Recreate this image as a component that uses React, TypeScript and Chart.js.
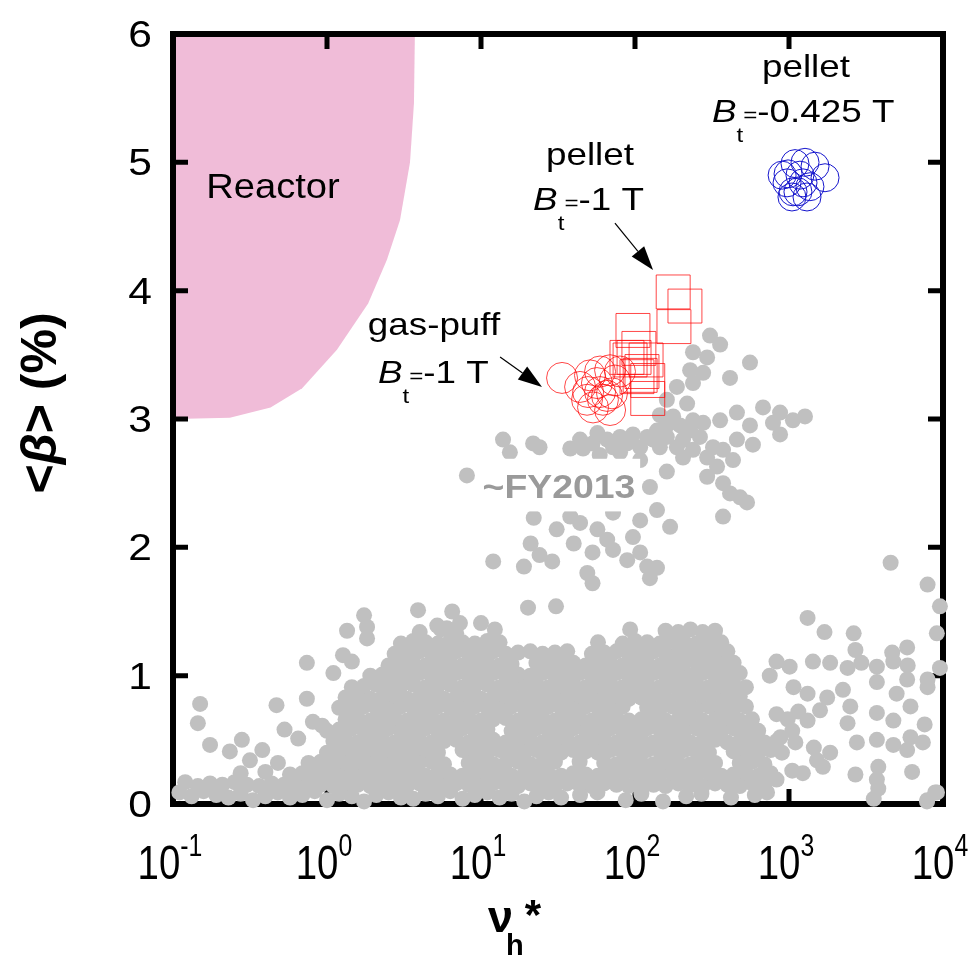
import React, { useEffect, useRef } from "react";
import { Chart, registerables } from "chart.js";

Chart.register(...registerables);

const SANS = '"Liberation Sans", Arial, Helvetica, sans-serif';

// ---- axes ----
const nuTicks = [0.1, 1, 10, 100, 1000, 10000];
const nuTickExponents = ["-1", "0", "1", "2", "3", "4"];
const betaTicks = [0, 1, 2, 3, 4, 5, 6];

// ---- reactor-relevant regime (outline in ν_h*, <β>) ----
const reactorNu = [0.1, 3.72, 3.67, 3.46, 2.98, 2.45, 1.85, 1.16, 0.69, 0.43, 0.234, 0.103, 0.1];
const reactorBeta = [6, 6, 5.46, 5.0, 4.55, 4.24, 3.9, 3.54, 3.24, 3.09, 3.01, 3.0, 3.0];

// ---- pellet, Bt = -0.425 T ----
const pelletLowBNu = [902, 1271, 1714, 1143, 1045, 1309, 986, 1178, 971, 1476, 1094, 1233, 1062, 1368];
const pelletLowBBeta = [4.9, 5.0, 4.88, 4.77, 4.73, 4.73, 4.91, 4.9, 4.84, 4.97, 4.99, 4.84, 4.77, 4.81];

// ---- pellet, Bt = -1 T ----
const pelletNu = [177, 211, 179, 97, 106, 98.6, 92.9, 118, 111, 108, 121, 121, 103, 88.7];
const pelletBeta = [3.99, 3.88, 3.72, 3.69, 3.55, 3.48, 3.46, 3.46, 3.37, 3.34, 3.3, 3.16, 3.33, 3.48];

// ---- gas-puff, Bt = -1 T ----
const gasPuffNu = [33.6, 51, 49.6, 59.3, 68.9, 56.6, 65.8, 48.8, 61.9, 68.9, 53.4, 74.1, 79.9, 44.0, 59.3, 70.9];
const gasPuffBeta = [3.32, 3.34, 3.21, 3.37, 3.38, 3.28, 3.18, 3.15, 3.15, 3.07, 3.09, 3.3, 3.37, 3.25, 3.21, 3.2];

// ---- database up to FY2013, [ν_h*, <β>] ----
const dbFloor: number[][] = [
  [0.11,0.09],[0.132,0.06],[0.158,0.1],[0.191,0.07],[0.229,0.05],[0.275,0.08],[0.331,0.03],[0.398,0.06],[0.479,0.09],[0.575,0.05],[0.692,0.07],[0.832,0.1],[1.0,0.03],[1.2,0.08],[1.45,0.06],[1.74,0.02],[2.09,0.07],[2.51,0.09],[3.02,0.05],[3.63,0.04],[4.37,0.08],[5.25,0.06],[6.31,0.1],[7.59,0.04],[9.12,0.07],[11,0.09],[13.2,0.05],[15.8,0.08],[19.1,0.02],[22.9,0.06],[27.5,0.09],[33.1,0.05],[44,0.07],[57,0.09],[87,0.03],[110,0.08],[152,0.02],[215,0.06],[270,0.08],[420,0.05],[600,0.07],[3550,0.04],[7870,0.02],[9140,0.09],
  [0.12,0.17],[0.145,0.14],[0.174,0.16],[0.209,0.15],[0.251,0.17],[0.302,0.15],[0.363,0.14],[0.437,0.16],[0.525,0.15],[0.631,0.14],[0.759,0.16],[0.912,0.15],[1.1,0.14],[1.32,0.16],[1.58,0.15],[1.91,0.14],[2.29,0.16],[2.75,0.15],[3.31,0.14],[3.98,0.16],[4.79,0.15],[5.75,0.14],[6.92,0.16],[8.32,0.15],[10,0.14],[12,0.16],[14.5,0.15],[17.4,0.14],[20.9,0.16],[25.1,0.15],[30.2,0.14],[36.3,0.16],[43.7,0.15],[52.5,0.14],[63.1,0.16],[75.9,0.15],[91.2,0.14],[110,0.16],[132,0.15],[158,0.14],[191,0.16],[229,0.15],[275,0.14],[331,0.16],[398,0.15],[479,0.14],[575,0.16],[692,0.15],
  [0.275,0.24],[0.398,0.25],[0.575,0.23],[0.692,0.24],[0.832,0.23],[1.0,0.24],[1.2,0.22],[1.45,0.24],[1.74,0.23],[2.09,0.22],[2.51,0.24],[3.02,0.23],[3.63,0.24],[4.37,0.22],[5.25,0.24],[6.31,0.23],[7.59,0.22],[9.12,0.24],[11,0.23],[13.2,0.24],[15.8,0.22],[19.1,0.23],[22.9,0.24],[27.5,0.23],[33.1,0.22],[39.8,0.24],[47.9,0.23],[57.5,0.22],[69.2,0.24],[83.2,0.23],[100,0.24],[120,0.22],[145,0.23],[174,0.24],[209,0.22],[251,0.23],[302,0.24],[363,0.22],[437,0.23],[525,0.24],[631,0.22],[759,0.24],
];

const dbCore: number[][] = [
  [0.316,0.34],[0.48,0.32],[0.759,0.32],[0.912,0.33],[1.1,0.31],[1.32,0.32],[1.58,0.33],[1.91,0.31],[2.29,0.32],[2.75,0.33],[3.31,0.31],[3.98,0.32],[4.79,0.33],[5.75,0.31],[8.32,0.32],[10,0.33],[12,0.31],[14.5,0.32],[17.4,0.33],[20.9,0.31],[25.1,0.32],[30.2,0.33],[43.7,0.33],[63.1,0.32],[75.9,0.31],[91.2,0.33],[110,0.32],[132,0.31],[158,0.33],[191,0.32],[229,0.31],[275,0.33],[331,0.32],[479,0.32],[575,0.33],[692,0.31],
  [0.234,0.41],[0.38,0.42],[1.0,0.4],[1.2,0.41],[1.45,0.42],[1.74,0.4],[2.09,0.41],[2.51,0.42],[3.02,0.4],[3.63,0.41],[4.37,0.42],[5.25,0.4],[7.59,0.42],[9.12,0.41],[11,0.4],[13.2,0.42],[15.8,0.41],[19.1,0.4],[22.9,0.42],[27.5,0.41],[33.1,0.4],[39.8,0.42],[47.9,0.41],[57.5,0.4],[69.2,0.42],[83.2,0.41],[100,0.4],[120,0.42],[145,0.41],[174,0.4],[209,0.42],[251,0.41],[302,0.4],[437,0.41],[525,0.42],[631,0.4],[759,0.42],
  [0.174,0.46],[0.28,0.5],[0.65,0.51],[1.1,0.49],[1.32,0.5],[1.58,0.48],[1.91,0.49],[2.29,0.5],[2.75,0.48],[3.31,0.49],[3.98,0.5],[4.79,0.48],[5.75,0.49],[6.92,0.5],[8.32,0.48],[10,0.49],[12,0.5],[14.5,0.48],[17.4,0.49],[20.9,0.5],[25.1,0.48],[30.2,0.49],[36.3,0.5],[43.7,0.48],[52.5,0.49],[63.1,0.5],[75.9,0.48],[91.2,0.49],[110,0.5],[132,0.48],[158,0.49],[191,0.5],[229,0.48],[275,0.49],[331,0.5],[398,0.48],[479,0.49],[575,0.5],[692,0.48],[832,0.49],
  [0.53,0.58],[1.0,0.57],[1.2,0.58],[1.45,0.59],[1.74,0.57],[2.09,0.58],[2.51,0.59],[3.02,0.57],[3.63,0.58],[4.37,0.59],[5.25,0.57],[6.31,0.58],[7.59,0.59],[9.12,0.57],[11,0.58],[15.8,0.57],[19.1,0.58],[22.9,0.59],[27.5,0.57],[33.1,0.58],[39.8,0.59],[47.9,0.57],[57.5,0.58],[69.2,0.59],[83.2,0.57],[100,0.58],[120,0.59],[145,0.58],[174,0.58],[209,0.57],[251,0.59],[302,0.58],[363,0.57],[437,0.59],[525,0.58],[631,0.57],
  [0.145,0.63],[0.81,0.64],[0.93,0.61],[1.32,0.66],[1.58,0.67],[1.91,0.65],[2.29,0.66],[2.75,0.67],[3.31,0.65],[3.98,0.66],[4.79,0.67],[5.75,0.65],[6.92,0.66],[8.32,0.67],[10,0.65],[12,0.66],[14.5,0.67],[17.4,0.65],[20.9,0.66],[25.1,0.67],[30.2,0.65],[36.3,0.66],[43.7,0.67],[52.5,0.65],[63.1,0.66],[75.9,0.67],[91.2,0.65],[110,0.66],[132,0.67],[158,0.65],[191,0.66],[229,0.67],[275,0.65],[331,0.66],[398,0.67],[479,0.65],[575,0.66],
  [0.15,0.78],[0.47,0.77],[0.74,0.82],[1.2,0.75],[1.45,0.74],[1.74,0.76],[2.09,0.75],[2.51,0.74],[3.02,0.76],[3.63,0.75],[4.37,0.74],[5.25,0.76],[6.31,0.75],[7.59,0.74],[9.12,0.76],[11,0.75],[13.2,0.74],[15.8,0.76],[19.1,0.75],[22.9,0.74],[27.5,0.76],[33.1,0.75],[39.8,0.74],[47.9,0.76],[57.5,0.75],[69.2,0.74],[83.2,0.76],[120,0.75],[145,0.74],[174,0.76],[209,0.75],[251,0.74],[302,0.76],[363,0.75],[437,0.74],[525,0.76],
  [1.32,0.83],[1.58,0.84],[1.91,0.82],[2.29,0.83],[2.75,0.84],[3.31,0.82],[3.98,0.83],[4.79,0.84],[5.75,0.82],[6.92,0.83],[8.32,0.84],[10,0.82],[12,0.83],[14.5,0.84],[17.4,0.82],[20.9,0.83],[25.1,0.84],[30.2,0.82],[36.3,0.83],[43.7,0.84],[52.5,0.82],[63.1,0.83],[75.9,0.84],[91.2,0.82],[110,0.83],[132,0.84],[158,0.82],[191,0.83],[229,0.84],[275,0.84],[331,0.82],[398,0.83],[479,0.84],
];

const dbCap: number[][] = [
  [1.45,0.91],[1.74,0.92],[2.09,0.93],[2.51,0.91],[3.02,0.92],[3.63,0.93],[4.37,0.91],[5.25,0.92],[6.31,0.93],[7.59,0.91],[9.12,0.92],[11,0.93],[13.2,0.91],[15.8,0.92],[19.1,0.91],[22.9,0.93],[27.5,0.91],[33.1,0.92],[39.8,0.93],[47.9,0.91],[57.5,0.92],[69.2,0.93],[83.2,0.91],[100,0.92],[120,0.93],[145,0.91],[174,0.92],[209,0.93],[251,0.93],[302,0.91],[363,0.92],[437,0.93],[525,0.91],
  [1.1,1.02],[1.91,1.0],[2.29,1.01],[2.75,1.0],[3.31,1.01],[3.98,1.02],[4.79,1.0],[5.75,1.01],[6.92,1.02],[8.32,1.0],[10,1.01],[12,1.02],[14.5,1.0],[17.4,1.01],[20.9,1.0],[25.1,1.02],[30.2,1.0],[36.3,1.01],[43.7,1.02],[52.5,1.0],[63.1,1.01],[75.9,1.02],[91.2,1.0],[110,1.01],[132,1.02],[158,1.0],[191,1.01],[229,1.0],[275,1.02],[331,1.0],[398,1.01],[479,1.02],
  [0.74,1.1],[2.51,1.08],[3.02,1.09],[3.63,1.1],[4.37,1.08],[5.25,1.09],[6.31,1.1],[7.59,1.08],[9.12,1.09],[11,1.1],[13.2,1.08],[15.8,1.09],[22.9,1.1],[27.5,1.08],[33.1,1.09],[39.8,1.1],[47.9,1.08],[57.5,1.09],[69.2,1.1],[83.2,1.08],[100,1.09],[120,1.1],[145,1.08],[174,1.09],[209,1.1],[251,1.1],[302,1.08],[363,1.09],[437,1.1],
  [2.75,1.17],[3.31,1.18],[3.98,1.19],[4.79,1.17],[5.75,1.18],[6.92,1.19],[8.32,1.17],[10,1.18],[12,1.19],[14.5,1.17],[17.4,1.18],[20.9,1.19],[25.1,1.17],[30.2,1.18],[36.3,1.19],[52.5,1.17],[63.1,1.18],[75.9,1.19],[91.2,1.17],[110,1.18],[132,1.19],[158,1.17],[191,1.18],[229,1.19],[275,1.17],[331,1.18],[398,1.19],
  [3.02,1.25],[3.63,1.27],[4.37,1.26],[5.25,1.25],[6.31,1.27],[7.59,1.26],[9.12,1.25],[11,1.27],[13.2,1.26],[83.2,1.25],[100,1.27],[120,1.26],[145,1.25],[174,1.27],[209,1.26],[251,1.25],[302,1.27],[363,1.26],
  [4.0,1.34],[5.5,1.36],[6.9,1.33],[158,1.35],[191,1.34],[229,1.36],[275,1.34],[331,1.35],
];

const dbScatter: number[][] = [
  [3.9,1.51],[6.5,1.5],[20.2,1.53],[1.74,1.47],[1.82,1.38],[1.35,1.35],[1.82,1.29],[5.2,1.39],[6.0,1.37],[7.3,1.41],[10,1.41],[12.3,1.36],[7.3,1.25],[1.27,1.16],[1.45,1.11],[93,1.36],[57.5,1.26],[30.7,1.54],[125,1.76],
  [1320,1.45],[1700,1.34],[2630,1.33],[7940,1.71],[9550,1.54],[9120,1.33],[9550,1.06],[7940,0.97],[7940,0.91],[2700,1.2],[5850,1.22],[4680,1.18],[4570,1.88],
  [2400,1.06],[2950,1.1],[3720,1.07],[4760,1.11],[5900,1.08],[3720,0.95],[5850,0.97],[5000,0.86],
  [830,1.11],[750,1.0],[1010,1.07],[1430,1.11],[1850,1.1],[1070,0.91],[1320,0.86],[1770,0.83],[1590,0.73],
  [2240,0.89],[2500,0.76],[2400,0.63],[3720,0.71],[4760,0.65],[6150,0.76],[7600,0.62],
  [2760,0.48],[3720,0.5],[4760,0.46],[5850,0.42],[7400,0.48],[6150,0.52],
  [2700,0.23],[3800,0.29],[3720,0.19],[3800,0.12],[6300,0.25],[8900,0.09],[7900,0.03],
  [1320,0.65],[1450,0.44],[1520,0.34],[1660,0.29],[1850,0.4],[1230,0.24],[1050,0.26],[830,0.19],[720,0.09],
  [830,0.7],[980,0.66],[1150,0.72],[880,0.52],[1050,0.57],[900,0.4],[1100,0.48],
];

const dbHigh: number[][] = [
  [307,3.65],[357,3.58],[238,3.52],[294,3.48],[558,3.44],[228,3.38],[277,3.36],[414,3.32],[187,3.25],[238,3.28],[161,3.15],[218,3.12],[177,3.02],[238,2.99],[277,2.97],[357,2.99],[459,3.05],[558,2.95],[875,3.05],[1060,2.99],[1270,3.02],[787,2.97],[875,2.88],[459,2.84],[583,2.8],[678,3.09],
  [139,2.91],[120,2.86],[97,2.88],[80,2.86],[66,2.84],[53,2.81],[46,2.77],[38,2.77],[24,2.78],[21.8,2.81],[13.9,2.84],[15.4,2.74],[145,2.78],[187,2.78],[238,2.76],[294,2.7],[341,2.63],[294,2.55],[373,2.5],[414,2.42],[481,2.39],[534,2.35],[161,2.59],[125,2.47],[373,2.24],[8.1,2.56],
  [139,2.29],[169,2.16],[108,2.21],[72,2.27],[57,2.14],[66,2.06],[44,2.19],[97,2.08],[72,1.98],[89,1.9],[108,1.96],[120,1.85],[139,1.84],[53,1.96],[49,1.8],[53,1.72],[40,2.03],[31,2.14],[22,2.23],[21,2.03],[24,1.94],[29,1.89],[19,1.85],[12,1.89],[38,2.24],
  [44,2.84],[57,2.89],[72,2.78],[89,2.81],[108,2.78],[131,2.84],[161,2.86],[205,2.84],[264,2.86],[321,2.78],[228,2.91],[161,2.95],[373,2.76],[433,2.68],[80,2.74],[59,2.72],[108,2.68],[205,2.7],[145,3.03],[196,2.95],
];

// ---- annotation arrows: [ν tail, β tail, ν head, β head] ----
const arrowPellet = [74.1, 4.527, 131, 4.161];
const arrowGasPuff = [13.3, 3.483, 24.9, 3.249];

type Part = { t: string; font: string; dy?: number; dx?: number };

function rich(
  ctx: CanvasRenderingContext2D,
  parts: Part[],
  x: number,
  y: number,
  sx: number,
  align: "left" | "center" | "right"
) {
  ctx.save();
  ctx.textAlign = "left";
  ctx.textBaseline = "alphabetic";
  const widths = parts.map((p) => {
    ctx.font = p.font;
    return ctx.measureText(p.t).width * sx + (p.dx || 0);
  });
  const total = widths.reduce((a, b) => a + b, 0);
  let cx = align === "center" ? x - total / 2 : align === "right" ? x - total : x;
  parts.forEach((p, i) => {
    ctx.save();
    ctx.translate(cx + (p.dx || 0), y + (p.dy || 0));
    ctx.scale(sx, 1);
    ctx.font = p.font;
    ctx.fillText(p.t, 0, 0);
    ctx.restore();
    cx += widths[i];
  });
  ctx.restore();
}

function arrow(ctx: CanvasRenderingContext2D, x0: number, y0: number, x1: number, y1: number) {
  const ang = Math.atan2(y1 - y0, x1 - x0);
  const len = 24;
  const half = 8;
  const bx = x1 - len * Math.cos(ang);
  const by = y1 - len * Math.sin(ang);
  ctx.save();
  ctx.strokeStyle = "#000";
  ctx.fillStyle = "#000";
  ctx.lineWidth = 1.2;
  ctx.beginPath();
  ctx.moveTo(x0, y0);
  ctx.lineTo(bx, by);
  ctx.stroke();
  ctx.beginPath();
  ctx.moveTo(x1, y1);
  ctx.lineTo(bx + half * Math.sin(ang), by - half * Math.cos(ang));
  ctx.lineTo(bx - half * Math.sin(ang), by + half * Math.cos(ang));
  ctx.closePath();
  ctx.fill();
  ctx.restore();
}

const framePlugin = {
  id: "frame",
  afterDatasetDraw(chart: any, args: any) {
    if (args.index !== 0) return;
    const ctx: CanvasRenderingContext2D = chart.ctx;
    const { left, right, top, bottom } = chart.chartArea;
    const xs = chart.scales.x;
    const ys = chart.scales.y;
    ctx.save();
    ctx.strokeStyle = "#000";
    ctx.lineWidth = 6;
    ctx.strokeRect(left, top, right - left, bottom - top);
    ctx.lineWidth = 5;
    ctx.beginPath();
    nuTicks.slice(1, -1).forEach((v) => {
      const px = xs.getPixelForValue(v);
      ctx.moveTo(px, bottom);
      ctx.lineTo(px, bottom - 15);
      ctx.moveTo(px, top);
      ctx.lineTo(px, top + 15);
    });
    betaTicks.slice(1, -1).forEach((v) => {
      const py = ys.getPixelForValue(v);
      ctx.moveTo(left, py);
      ctx.lineTo(left + 15, py);
      ctx.moveTo(right, py);
      ctx.lineTo(right - 15, py);
    });
    ctx.stroke();
    ctx.restore();
  },
};

const textPlugin = {
  id: "texts",
  afterDatasetsDraw(chart: any) {
    const ctx: CanvasRenderingContext2D = chart.ctx;
    const xs = chart.scales.x;
    const ys = chart.scales.y;
    const X = (v: number) => xs.getPixelForValue(v);
    const Y = (v: number) => ys.getPixelForValue(v);
    const f = (s: number, w = "") => `${w} ${s}px ${SANS}`.trim();

    ctx.save();
    ctx.fillStyle = "#000";

    // region label
    rich(ctx, [{ t: "Reactor", font: f(35) }], X(0.446), Y(4.722), 1.09, "center");

    // database label with its white backing
    ctx.fillStyle = "#fff";
    ctx.fillRect(X(9.55), Y(2.69), X(108) - X(9.55), Y(2.28) - Y(2.69));
    ctx.fillStyle = "#9a9a9a";
    rich(ctx, [{ t: "~FY2013", font: f(34, "bold") }], X(32.1), Y(2.384), 1.1, "center");
    ctx.fillStyle = "#000";

    // group labels
    const bt = (rest: string): Part[] => [
      { t: "B", font: f(32, "italic") },
      { t: "t", font: f(21), dy: 20 },
      { t: "=", font: f(21) },
      { t: rest, font: f(32) },
    ];
    rich(ctx, [{ t: "pellet", font: f(32) }], X(1289), Y(5.665), 1.15, "center");
    rich(ctx, bt("-0.425 T"), X(316), Y(5.314), 1.15, "left");
    rich(ctx, [{ t: "pellet", font: f(32) }], X(51), Y(4.979), 1.15, "center");
    rich(ctx, bt("-1 T"), X(21.8), Y(4.629), 1.15, "left");
    rich(ctx, [{ t: "gas-puff", font: f(32) }], X(4.95), Y(3.655), 1.15, "center");
    rich(ctx, bt("-1 T"), X(2.14), Y(3.281), 1.15, "left");

    arrow(ctx, X(arrowPellet[0]), Y(arrowPellet[1]), X(arrowPellet[2]), Y(arrowPellet[3]));
    arrow(ctx, X(arrowGasPuff[0]), Y(arrowGasPuff[1]), X(arrowGasPuff[2]), Y(arrowGasPuff[3]));

    // tick labels
    nuTicks.forEach((v, i) => {
      rich(
        ctx,
        [
          { t: "10", font: f(48) },
          { t: nuTickExponents[i], font: f(31), dy: -23 },
        ],
        X(v) - 3,
        879,
        0.8,
        "center"
      );
    });
    betaTicks.forEach((v) => {
      rich(ctx, [{ t: String(v), font: f(37) }], 152, Y(v) + 13, 1.15, "right");
    });

    // x-axis title
    rich(
      ctx,
      [
        { t: "ν", font: f(45, "bold") },
        { t: "h", font: f(29, "bold"), dy: 23, dx: -7 },
        { t: "*", font: f(42, "bold"), dy: -3, dx: 1 },
      ],
      488,
      932,
      1.0,
      "left"
    );

    // y-axis title
    ctx.save();
    ctx.translate(56, 403);
    ctx.rotate(-Math.PI / 2);
    rich(
      ctx,
      [
        { t: "<", font: f(50, "bold") },
        { t: "β", font: f(50, "bold italic") },
        { t: ">", font: f(50, "bold") },
        { t: " (%)", font: f(50, "bold") },
      ],
      0,
      0,
      1.0,
      "center"
    );
    ctx.restore();

    ctx.restore();
  },
};

const toPoints = (rows: number[][]) => rows.map(([x, y]) => ({ x, y }));
const zip = (xs: number[], ys: number[]) => xs.map((x, i) => ({ x, y: ys[i] }));

export default function App() {
  const ref = useRef<HTMLCanvasElement>(null);

  useEffect(() => {
    const canvas = ref.current;
    if (!canvas) return;
    const chart = new Chart(canvas, {
      type: "scatter",
      data: {
        datasets: [
          {
            type: "line",
            data: zip(reactorNu, reactorBeta),
            fill: "shape",
            backgroundColor: "#f0bcd8",
            borderColor: "rgba(0,0,0,0)",
            borderWidth: 0,
            pointRadius: 0,
            tension: 0,
            order: 10,
          } as any,
          {
            data: toPoints([...dbFloor, ...dbCore, ...dbCap, ...dbScatter, ...dbHigh]),
            pointRadius: 8,
            pointStyle: "circle",
            backgroundColor: "#c0c0c0",
            borderWidth: 0,
            clip: false,
            order: 5,
          } as any,
          {
            data: zip(gasPuffNu, gasPuffBeta),
            pointRadius: 15.5,
            pointStyle: "circle",
            backgroundColor: "rgba(0,0,0,0)",
            borderColor: "rgba(255,0,0,0.72)",
            borderWidth: 1,
            clip: false,
            order: 3,
          } as any,
          {
            data: zip(pelletNu, pelletBeta),
            pointRadius: 24,
            pointStyle: "rect",
            backgroundColor: "rgba(0,0,0,0)",
            borderColor: "rgba(255,0,0,0.72)",
            borderWidth: 1,
            clip: false,
            order: 2,
          } as any,
          {
            data: zip(pelletLowBNu, pelletLowBBeta),
            pointRadius: 14,
            pointStyle: "circle",
            backgroundColor: "rgba(0,0,0,0)",
            borderColor: "#1414cc",
            borderWidth: 1,
            clip: false,
            order: 1,
          } as any,
        ],
      },
      options: {
        responsive: false,
        animation: false,
        devicePixelRatio: 1,
        layout: { padding: { left: 173, right: 28, top: 34, bottom: 154 } },
        plugins: { legend: { display: false }, tooltip: { enabled: false } },
        events: [],
        scales: {
          x: { type: "logarithmic", min: 0.1, max: 10000, display: false },
          y: { type: "linear", min: 0, max: 6, display: false },
        },
      },
      plugins: [framePlugin, textPlugin],
    });
    return () => chart.destroy();
  }, []);

  return (
    <div style={{ position: "absolute", left: 0, top: 0, width: 971, height: 958, background: "#fff" }}>
      <canvas ref={ref} width={971} height={958} style={{ display: "block" }} />
    </div>
  );
}
